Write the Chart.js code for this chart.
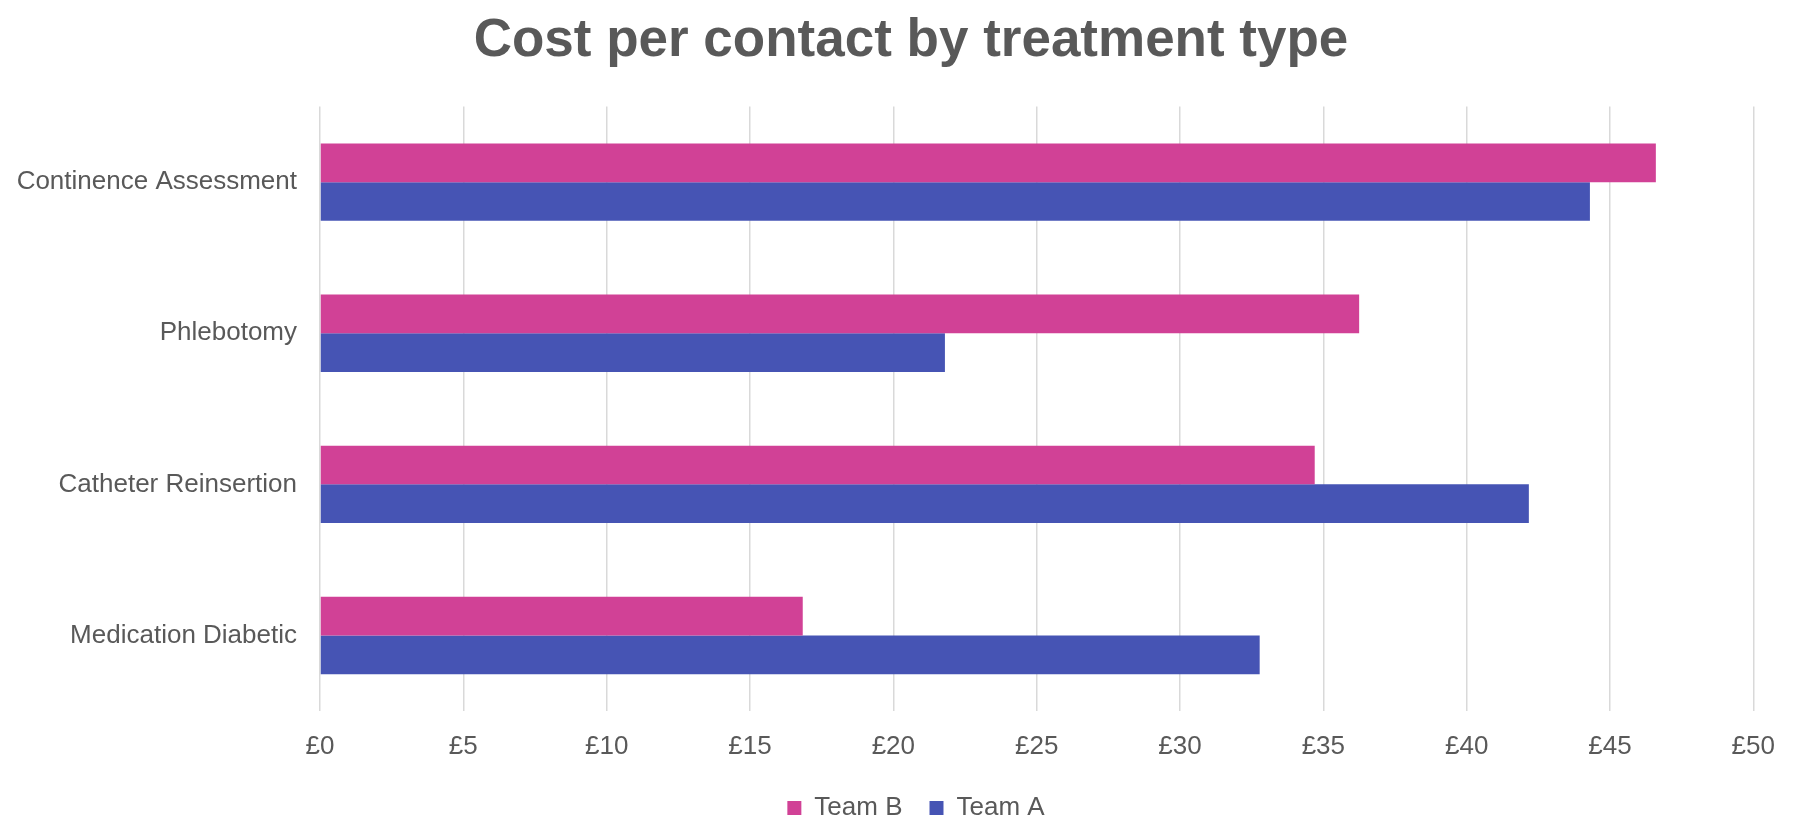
<!DOCTYPE html>
<html lang="en">
<head>
<meta charset="utf-8">
<title>Cost per contact by treatment type</title>
<script src="https://cdn.jsdelivr.net/npm/chart.js@4/dist/chart.umd.min.js"></script>
<style>
  html, body { margin: 0; padding: 0; background: #fff; }
  #wrap { width: 1795px; height: 817px; }
</style>
</head>
<body>
<div id="wrap"><canvas id="chartCusto"></canvas></div>
<script>
// dados do gráfico
const categorias = ["Continence Assessment", "Phlebotomy", "Catheter Reinsertion", "Medication Diabetic"];
const teamB = [46.6, 36.25, 34.7, 16.84];
const teamA = [44.3, 21.8, 42.17, 32.78];
const ticksX = [0, 5, 10, 15, 20, 25, 30, 35, 40, 45, 50];

const corTexto = "#595959";
const corGrade = "#d9d9d9";

/**
 * Legenda mais baixa e título/legenda um pouco à direita
 */
const ajusteCabecalho = {
  id: "ajusteCabecalho",
  beforeLayout(chart) {
    const lg = chart.legend;
    if (lg && !lg._fitOriginal) {
      lg._fitOriginal = lg.fit;
      lg.fit = function () {
        this._fitOriginal();
        this.height = 49;
      };
    }
  },
  afterLayout(chart) {
    const t = chart.titleBlock;
    t.left += 22;
    t.right += 22;
    const lg = chart.legend;
    lg.left += 27;
    lg.right += 27;
  },
};

/**
 * Monta o gráfico de barras horizontais
 */
function initializeCostChart() {
  const ctx = document.getElementById("chartCusto").getContext("2d");
  Chart.defaults.font.family = "'Liberation Sans', Arial, sans-serif";
  Chart.defaults.color = corTexto;

  new Chart(ctx, {
    type: "bar",
    data: {
      labels: categorias,
      datasets: [
        { label: "Team B", data: teamB, backgroundColor: "#d14196" },
        { label: "Team A", data: teamA, backgroundColor: "#4654b4" },
      ],
    },
    plugins: [ajusteCabecalho],
    options: {
      indexAxis: "y",
      responsive: true,
      maintainAspectRatio: false,
      animation: false,
      layout: { padding: { left: 8, right: 25, top: 0, bottom: 0 } },
      datasets: {
        bar: { categoryPercentage: 0.512, barPercentage: 1.0 },
      },
      scales: {
        x: {
          min: ticksX[0],
          max: ticksX[ticksX.length - 1],
          afterBuildTicks: (scale) => {
            scale.ticks = ticksX.map((v) => ({ value: v }));
          },
          afterFit: (scale) => { scale.height = 57; },
          grid: { color: corGrade, lineWidth: 1.5, drawTicks: false },
          border: { display: false },
          ticks: {
            padding: 20,
            font: { size: 26 },
            color: corTexto,
            callback: (v) => "£" + v,
          },
        },
        y: {
          afterFit: (scale) => { scale.width = 312; },
          grid: { display: false, drawTicks: false },
          border: { display: false },
          ticks: { padding: 23, font: { size: 26 }, color: corTexto },
        },
      },
      plugins: {
        title: {
          display: true,
          text: "Cost per contact by treatment type",
          color: corTexto,
          font: { size: 53, weight: "bold" },
          padding: { top: 10, bottom: 33 },
        },
        legend: {
          position: "bottom",
          labels: {
            boxWidth: 14,
            boxHeight: 14,
            padding: 27,
            color: corTexto,
            font: { size: 26 },
          },
        },
        tooltip: { enabled: false },
      },
    },
  });
}

window.onload = () => {
  initializeCostChart();
};
</script>
</body>
</html>
